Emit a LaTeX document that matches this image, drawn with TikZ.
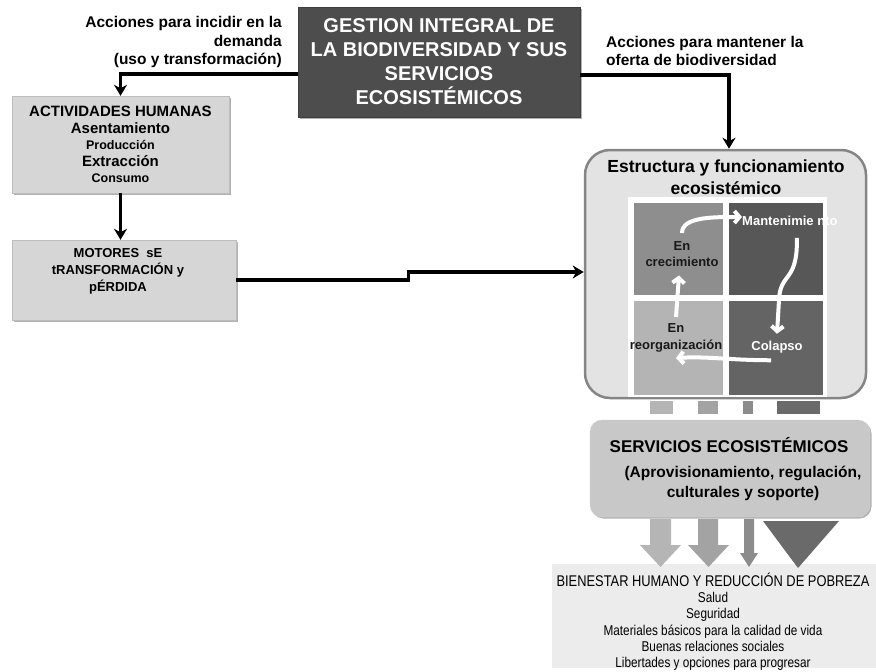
\documentclass[tikz,border=0pt]{standalone}
\usepackage{fontspec}
\setmainfont{Liberation Sans}
\newfontfamily\narrowfont[FakeStretch=0.83]{Liberation Sans}
\usetikzlibrary{arrows.meta}
\usetikzlibrary{positioning}
\usetikzlibrary{shadows}

\definecolor{gestionfill}{HTML}{4D4D4D}
\definecolor{boxfill}{HTML}{D6D6D6}
\definecolor{boxline}{HTML}{BDBDBD}
\definecolor{ecofill}{HTML}{E3E3E3}
\definecolor{ecoline}{HTML}{858585}
\definecolor{growfill}{HTML}{8E8E8E}
\definecolor{keepfill}{HTML}{575757}
\definecolor{reorgfill}{HTML}{B4B4B4}
\definecolor{collapsefill}{HTML}{646464}
\definecolor{servfill}{HTML}{C8C8C8}
\definecolor{wellfill}{HTML}{ECECEC}
\definecolor{arrowlight}{HTML}{B5B5B5}
\definecolor{arrowmid}{HTML}{8C8C8C}
\definecolor{arrowdark}{HTML}{6A6A6A}

\newcommand\setfs[2]{\fontsize{#1}{#2}\selectfont}

\tikzset{
  boxshadow/.style={drop shadow={shadow xshift=1.5pt,shadow yshift=-1.5pt,fill=black,opacity=0.3}},
  greybox/.style={rectangle,fill=boxfill,draw=boxline,inner sep=0pt,boxshadow},
  quad/.style={rectangle,inner sep=0pt,draw=white,line width=0.5pt}
}

\begin{document}
\begin{tikzpicture}[x=1pt,y=-1pt,
    conn/.style={line width=3.4pt,-{Stealth[length=11pt,width=13pt,inset=3.5pt]}},
    cycle/.style={white,line width=4pt,-{Straight Barb[length=5pt,width=12pt]}},
    lbl/.style={inner sep=0pt,font=\bfseries\setfs{15.5}{18.5}}]
  \useasboundingbox (0,0) rectangle (876,672);

  % Place nodes
  \node [rectangle,fill=gestionfill,draw=gestionfill!80!black,inner sep=0pt,boxshadow,
         minimum width=282,minimum height=110,align=center,text=white,
         font=\bfseries\setfs{20}{24}] (gestion) at (439,62)
        {GESTION INTEGRAL DE\\LA BIODIVERSIDAD Y SUS\\SERVICIOS\\ECOSISTÉMICOS};

  \node [lbl,anchor=north east,align=right] (demandLbl) at (282,16.5)
        {Acciones para incidir en la\\demanda\\(uso y transformación)};
  \node [lbl,anchor=north west,align=left,font=\bfseries\setfs{15.5}{17.5}] (supplyLbl) at (606,36.5)
        {Acciones para mantener la\\oferta de biodiversidad};

  \node [greybox,minimum width=217,minimum height=97,align=center,
         font=\bfseries\setfs{15}{16.5}] (act) at (120.5,144.5)
        {ACTIVIDADES HUMANAS\\Asentamiento\\{\setfs{12.5}{16}Producción}\\Extracción\\{\setfs{12.5}{16}Consumo}};

  \node [greybox,minimum width=224,minimum height=80] (motores) at (124,280) {};
  \node [inner sep=0pt,align=center,font=\bfseries\setfs{13}{17}] (motoresTxt) at (118,271)
        {MOTORES\ \ sE\\tRANSFORMACIÓN y\\pÉRDIDA};

  % ecosystem box and adaptive cycle
  \node [rectangle,rounded corners=25,fill=ecofill,draw=ecoline,line width=2.5pt,
         minimum width=281,minimum height=248,inner sep=0pt] (eco) at (725.5,274) {};
  \node [inner sep=0pt,anchor=north,align=center,font=\bfseries\setfs{17.5}{22}] (ecoTitle) at (726,159.5)
        {Estructura y funcionamiento\\ecosistémico};
  \fill [white] (628,197) rectangle (827,397);
  \node [quad,fill=growfill,minimum width=90,minimum height=93] (growQ) at (678,248.5) {};
  \node [quad,fill=keepfill,minimum width=95,minimum height=93] (keepQ) at (775.5,248.5) {};
  \node [quad,fill=reorgfill,minimum width=90,minimum height=95] (reorgQ) at (678,347.5) {};
  \node [quad,fill=collapsefill,minimum width=95,minimum height=95] (collapseQ) at (775.5,347.5) {};

  \node [inner sep=0pt,anchor=north,align=center,font=\bfseries\setfs{13}{16},text=black!90] (growTxt) at (682,241)
        {En\\crecimiento};
  \node [inner sep=0pt,anchor=west,font=\bfseries\setfs{13}{16},text=white] (keepTxt) at (742,221)
        {Mantenimie nto};
  \node [inner sep=0pt,anchor=north,align=center,font=\bfseries\setfs{13}{17},text=black!90] (reorgTxt) at (676,323)
        {En\\reorganización};
  \node [inner sep=0pt,font=\bfseries\setfs{13}{16},text=white] (collapseTxt) at (777,347)
        {Colapso};

  \draw [cycle] ([yshift=8pt]growTxt.north) .. controls +(0,-16) and +(-30,0) .. ([yshift=4pt]keepTxt.west);
  \draw [cycle] ([xshift=7pt,yshift=-12pt]keepTxt.south) .. controls +(1,45) and +(1,-28) .. (779,300)
        -- ([yshift=7pt]collapseTxt.north);
  \draw [cycle] ([xshift=-6pt,yshift=-7pt]collapseTxt.south) .. controls +(-40,0) and +(30,-2) .. ([yshift=-6pt]reorgTxt.south);
  \draw [cycle] ([yshift=6pt]reorgTxt.north) -- ([xshift=-3pt,yshift=-9pt]growTxt.south);

  % arrow stubs under the cycle
  \fill [arrowlight] (650,401) rectangle (673,414);
  \fill [arrowlight!90!black] (698,401) rectangle (718,414);
  \fill [arrowmid] (743,401) rectangle (753,414);
  \fill [arrowdark] (777,401) rectangle (820,414);

  \node [rectangle,rounded corners=12,fill=servfill,draw=servfill!80!white,inner sep=0pt,boxshadow,
         minimum width=280,minimum height=97] (servicios) at (730,468.5) {};
  \node [inner sep=0pt,font=\bfseries\setfs{17}{20}] (servTitle) at (729,445)
        {SERVICIOS ECOSISTÉMICOS};
  \node [inner sep=0pt,align=center,font=\bfseries\setfs{15.5}{20}] (servTxt) at (743,483)
        {(Aprovisionamiento, regulación,\\culturales y soporte)};

  % wellbeing box
  \node [rectangle,fill=wellfill,inner sep=0pt,minimum width=324,minimum height=104] (bienestar) at (714,616) {};
  \node [inner sep=0pt,anchor=north,align=center,font=\narrowfont\setfs{14.2}{16.3}] (bienestarTxt) at (713,572.5)
        {{\setfs{15.5}{16.3}BIENESTAR HUMANO Y REDUCCIÓN DE POBREZA}\\Salud\\Seguridad\\
         Materiales básicos para la calidad de vida\\Buenas relaciones sociales\\
         Libertades y opciones para progresar};

  % block arrows towards wellbeing
  \fill [arrowlight] (650,519) -- (671,519) -- (671,545) -- (681,545) -- (660.5,567) -- (640,545) -- (650,545) -- cycle;
  \fill [arrowlight!90!black] (698,519) -- (718,519) -- (718,545) -- (729,545) -- (708.5,567) -- (688,545) -- (698,545) -- cycle;
  \fill [arrowmid] (744,519) -- (754,519) -- (754,553) -- (758,553) -- (749,567) -- (740,553) -- (744,553) -- cycle;
  \fill [arrowdark] (763,521) -- (839,521) -- (798,568) -- cycle;

  % connectors
  \draw [conn] ([yshift=-12pt]gestion.west) -| (act.north);
  \draw [conn] ([yshift=-13pt]gestion.east) -| ([xshift=3.5pt]eco.north);
  \draw [conn] (act.south) -- (act.south |- motores.north);
  \draw [conn] (motores.east) -- ++(172,0) |- ([yshift=2pt]eco.west);
\end{tikzpicture}
\end{document}
